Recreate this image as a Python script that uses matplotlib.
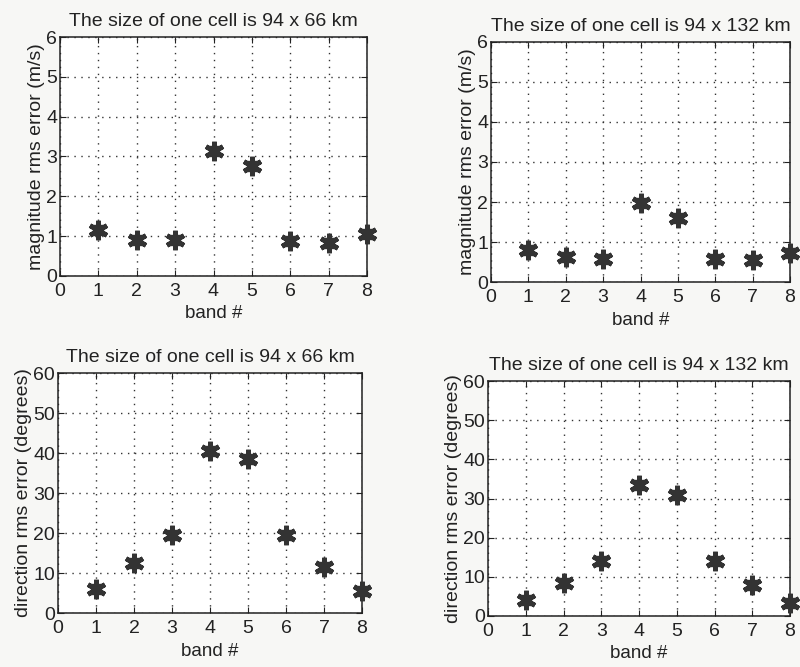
import matplotlib
matplotlib.use("Agg")
import matplotlib.pyplot as plt

plt.rcParams['font.family'] = ['Liberation Sans', 'DejaVu Sans']

bands = [1, 2, 3, 4, 5, 6, 7, 8]
mag_66 = [1.15, 0.90, 0.90, 3.15, 2.75, 0.88, 0.83, 1.05]
mag_132 = [0.80, 0.62, 0.58, 1.97, 1.60, 0.58, 0.55, 0.72]
dir_66 = [6.0, 12.5, 19.5, 40.5, 38.5, 19.5, 11.5, 5.5]
dir_132 = [4.0, 8.3, 14.0, 33.5, 30.8, 14.0, 7.8, 3.3]

title_66 = "The size of one cell is 94 x 66 km"
title_132 = "The size of one cell is 94 x 132 km"
xlabel = "band #"
ylab_mag = "magnitude rms error (m/s)"
ylab_dir = "direction rms error (degrees)"

W, H = 800, 667
fig = plt.figure(figsize=(W / 100, H / 100), dpi=100)
fig.patch.set_facecolor('#f7f7f5')

ink = '#222222'

def px_axes(l, r, t, b):
    return fig.add_axes([l / W, 1 - b / H, (r - l) / W, (b - t) / H])

panels = [
    (px_axes(60, 367, 37, 276), mag_66, title_66, ylab_mag, (0, 6), range(0, 7)),
    (px_axes(491, 790, 42, 282), mag_132, title_132, ylab_mag, (0, 6), range(0, 7)),
    (px_axes(58, 362, 373, 613), dir_66, title_66, ylab_dir, (0, 60), range(0, 61, 10)),
    (px_axes(488, 790, 381, 616), dir_132, title_132, ylab_dir, (0, 60), range(0, 61, 10)),
]

for ax, vals, title, ylab, ylim, yt in panels:
    ax.set_facecolor('white')
    ax.set_xlim(0, 8)
    ax.set_ylim(*ylim)
    ax.set_xticks(range(0, 9))
    ax.set_yticks(list(yt))
    ax.grid(True, color='#333333', linestyle=(0, (1, 4)), linewidth=1.0)
    ax.tick_params(direction='in', length=4, top=True, right=True,
                   labelsize=14, colors=ink)
    ax.tick_params(axis='x', pad=5)
    ax.tick_params(axis='y', pad=2)
    for s in ax.spines.values():
        s.set_color(ink)
        s.set_linewidth(1.1)
    ax.set_title(title, fontsize=14, color=ink, pad=8)
    ax.set_xlabel(xlabel, fontsize=13.5, color=ink, labelpad=4)
    ax.set_ylabel(ylab, fontsize=14, color=ink, labelpad=1)
    ax.plot(bands, vals, linestyle='none', marker=(6, 2, 0), markersize=14,
            markeredgewidth=3.4, color='#333333', clip_on=False, zorder=5)
    ax.plot(bands, vals, linestyle='none', marker='s', markersize=7,
            color='#333333', clip_on=False, zorder=5)

fig.savefig("out.png", dpi=100, facecolor=fig.get_facecolor())
